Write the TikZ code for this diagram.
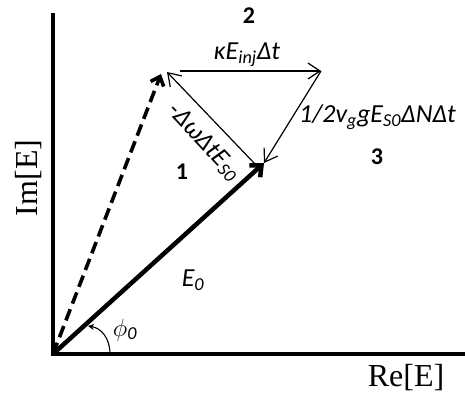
\documentclass[tikz,border=0pt]{standalone}
\usepackage{fontspec}
\setmainfont{Liberation Serif}
\newfontfamily\cf{Carlito}
\usetikzlibrary{arrows.meta}
\tikzset{
  axis/.style={line width=4pt},
  vec/.style={line width=1.2pt,-{Straight Barb[length=12pt,width=16pt,line width=1.2pt]}},
  bigvec/.style={line width=4.5pt,-{Straight Barb[length=9pt,width=16pt,line width=4.5pt]}},
  dashvec/.style={line width=3.6pt,dash pattern=on 12pt off 6pt,-{Straight Barb[length=8pt,width=14pt,line width=3.6pt]}},
  lab/.style={font=\cf\fontsize{26}{28}\selectfont\itshape,inner sep=0pt},
  num/.style={font=\cf\fontsize{24}{26}\selectfont\bfseries,inner sep=0pt},
  axlab/.style={font=\fontsize{32}{34}\selectfont,inner sep=0pt}
}
\begin{document}
\begin{tikzpicture}[x=1pt,y=-1pt]
\useasboundingbox (0,0) rectangle (465,401);
\coordinate (O) at (53,354);
\coordinate (Ytop) at (53,15);
\coordinate (Xend) at (466,354);
\coordinate (T) at (264,163);
\coordinate (Ts) at (255,164);
\coordinate (D) at (161,74);
\coordinate (A) at (167,72);
\coordinate (As) at (180,71);
\coordinate (B) at (321,71);
\coordinate (Ta) at (264,163);
\coordinate (P0) at (110,354);
\coordinate (P1) at (88,326);
\draw[axis,line cap=rect] (Ytop) -- (O) -- (Xend);
\draw[dashvec] (O) -- (D);
\draw[bigvec] (O) -- (T);
\draw[vec] (Ts) -- (A);
\draw[vec] (As) -- (B);
\draw[vec] (B) -- (Ta);
\draw[line width=1.1pt,-{Stealth[length=6pt,width=6pt]}] (P0) .. controls (110,338) and (101,328) .. (P1);
\node[num] (n2) at (249,16) {2};
\node[lab] (kap) at (247,55) {κE\textsubscript{inj}Δt};
\node[lab,anchor=west] (gain) at (299,117) {1/2v\textsubscript{g}gE\textsubscript{S0}ΔNΔt};
\node[num] (n3) at (377,157) {3};
\node[num] (n1) at (182,172) {1};
\node[lab,rotate=-47] (dw) at (204,142) {-ΔωΔtE\textsubscript{S0}};
\node[lab] (e0) at (193,280) {E\textsubscript{0}};
\node[lab] (phi) at (125,330) {$\phi$\textsubscript{0}};
\node[axlab] (im) at (29,178) {\rotatebox{90}{Im[E]}};
\node[axlab] (re) at (406,378) {Re[E]};
\end{tikzpicture}
\end{document}
